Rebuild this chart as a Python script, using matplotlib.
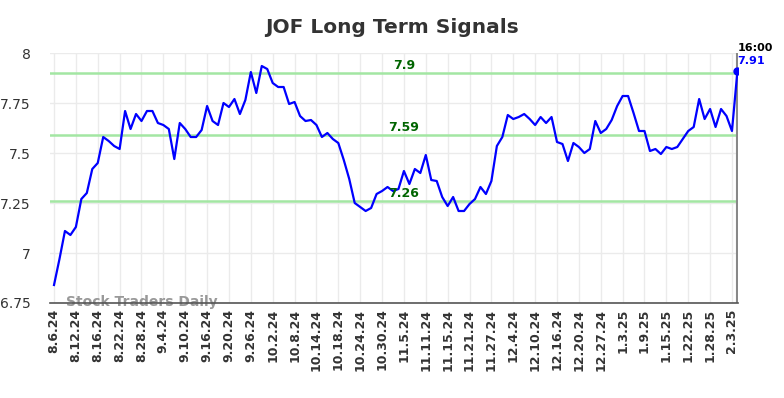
import matplotlib
matplotlib.use("Agg")
import matplotlib.pyplot as plt
from matplotlib.ticker import FuncFormatter

# daily closes, 8.6.24 .. 2.4.25
prices = [
    6.84, 6.97, 7.11, 7.09, 7.13, 7.27, 7.30, 7.42, 7.45, 7.58,
    7.56, 7.535, 7.52, 7.71, 7.62, 7.695, 7.66, 7.71, 7.71, 7.65,
    7.64, 7.62, 7.47, 7.65, 7.62, 7.58, 7.58, 7.615, 7.735, 7.66,
    7.64, 7.75, 7.73, 7.77, 7.695, 7.765, 7.905, 7.80, 7.935, 7.92,
    7.85, 7.83, 7.83, 7.745, 7.755, 7.685, 7.66, 7.665, 7.64, 7.58,
    7.60, 7.57, 7.55, 7.465, 7.37, 7.25, 7.23, 7.21, 7.225, 7.295,
    7.31, 7.33, 7.31, 7.32, 7.41, 7.345, 7.42, 7.40, 7.49, 7.365,
    7.36, 7.28, 7.235, 7.28, 7.21, 7.21, 7.245, 7.27, 7.33, 7.295,
    7.36, 7.535, 7.58, 7.69, 7.67, 7.68, 7.695, 7.67, 7.64, 7.68,
    7.65, 7.68, 7.555, 7.545, 7.46, 7.55, 7.53, 7.50, 7.52, 7.66,
    7.60, 7.62, 7.665, 7.735, 7.785, 7.785, 7.70, 7.61, 7.61, 7.51,
    7.52, 7.495, 7.53, 7.52, 7.53, 7.57, 7.61, 7.63, 7.77, 7.67,
    7.72, 7.63, 7.72, 7.685, 7.61, 7.91,
]

tick_labels = [
    "8.6.24", "8.12.24", "8.16.24", "8.22.24", "8.28.24", "9.4.24",
    "9.10.24", "9.16.24", "9.20.24", "9.26.24", "10.2.24", "10.8.24",
    "10.14.24", "10.18.24", "10.24.24", "10.30.24", "11.5.24", "11.11.24",
    "11.15.24", "11.21.24", "11.27.24", "12.4.24", "12.10.24", "12.16.24",
    "12.20.24", "12.27.24", "1.3.25", "1.9.25", "1.15.25", "1.22.25",
    "1.28.25", "2.3.25",
]

signal_levels = [7.9, 7.59, 7.26]
signal_labels = ["7.9", "7.59", "7.26"]

last_time = "16:00"

fig = plt.figure(figsize=(7.84, 3.98), dpi=100)
ax = fig.add_axes([0.0638, 0.2387, 0.8775, 0.6281])

x = list(range(len(prices)))

# grid
ax.grid(True, color="#ebebeb", linewidth=1)
ax.set_axisbelow(True)

# signal lines, labels sit a bit right of the middle
label_x = 64
for lvl, lab in zip(signal_levels, signal_labels):
    ax.axhline(lvl, color="#a3e6a3", linewidth=1.8, zorder=2)
    ax.text(label_x, lvl + 0.007, lab, color="#006400", fontsize=9, fontweight="bold",
            ha="center", va="bottom", zorder=4)

ax.plot(x, prices, color="#0000ff", linewidth=1.6, zorder=3)

# last point marker and vertical line
ax.axvline(x[-1], color="#888888", linewidth=1.5, zorder=2)
ax.plot(x[-1], prices[-1], "o", color="#0000ff", markersize=5, zorder=5)
ax.annotate(last_time, (x[-1], 8.0), xytext=(0, 0), textcoords="offset points",
            fontsize=8, fontweight="bold", color="black", ha="left", va="bottom",
            annotation_clip=False)
ax.annotate("%.2f" % prices[-1], (x[-1], 8.0), xytext=(0, -2), textcoords="offset points",
            fontsize=8, fontweight="bold", color="#0000ff", ha="left", va="top",
            annotation_clip=False)

ax.set_xlim(-0.73, 125.1)
ax.set_ylim(6.75, 8.0)
ax.set_yticks([6.75, 7.0, 7.25, 7.5, 7.75, 8.0])
ax.yaxis.set_major_formatter(FuncFormatter(lambda v, p: "%g" % v))
ax.set_xticks(list(range(0, len(prices), 4)))
ax.set_xticklabels(tick_labels, rotation=90, fontweight="bold", fontsize=9, color="#333333")
ax.tick_params(axis="y", labelsize=10, colors="#333333", length=0, pad=14)
ax.tick_params(axis="x", length=0, pad=4)

for side in ["top", "right", "left"]:
    ax.spines[side].set_visible(False)
ax.spines["bottom"].set_color("#555555")
ax.spines["bottom"].set_linewidth(1.2)

ax.text(2.2, 6.757, "Stock Traders Daily", color="#999999", fontsize=10,
        fontweight="bold", ha="left", va="center", zorder=1)

fig.suptitle("JOF Long Term Signals", x=0.5, y=0.955, fontsize=14.5, fontweight="bold",
             color="#333333")

fig.savefig("out.png", dpi=100)
